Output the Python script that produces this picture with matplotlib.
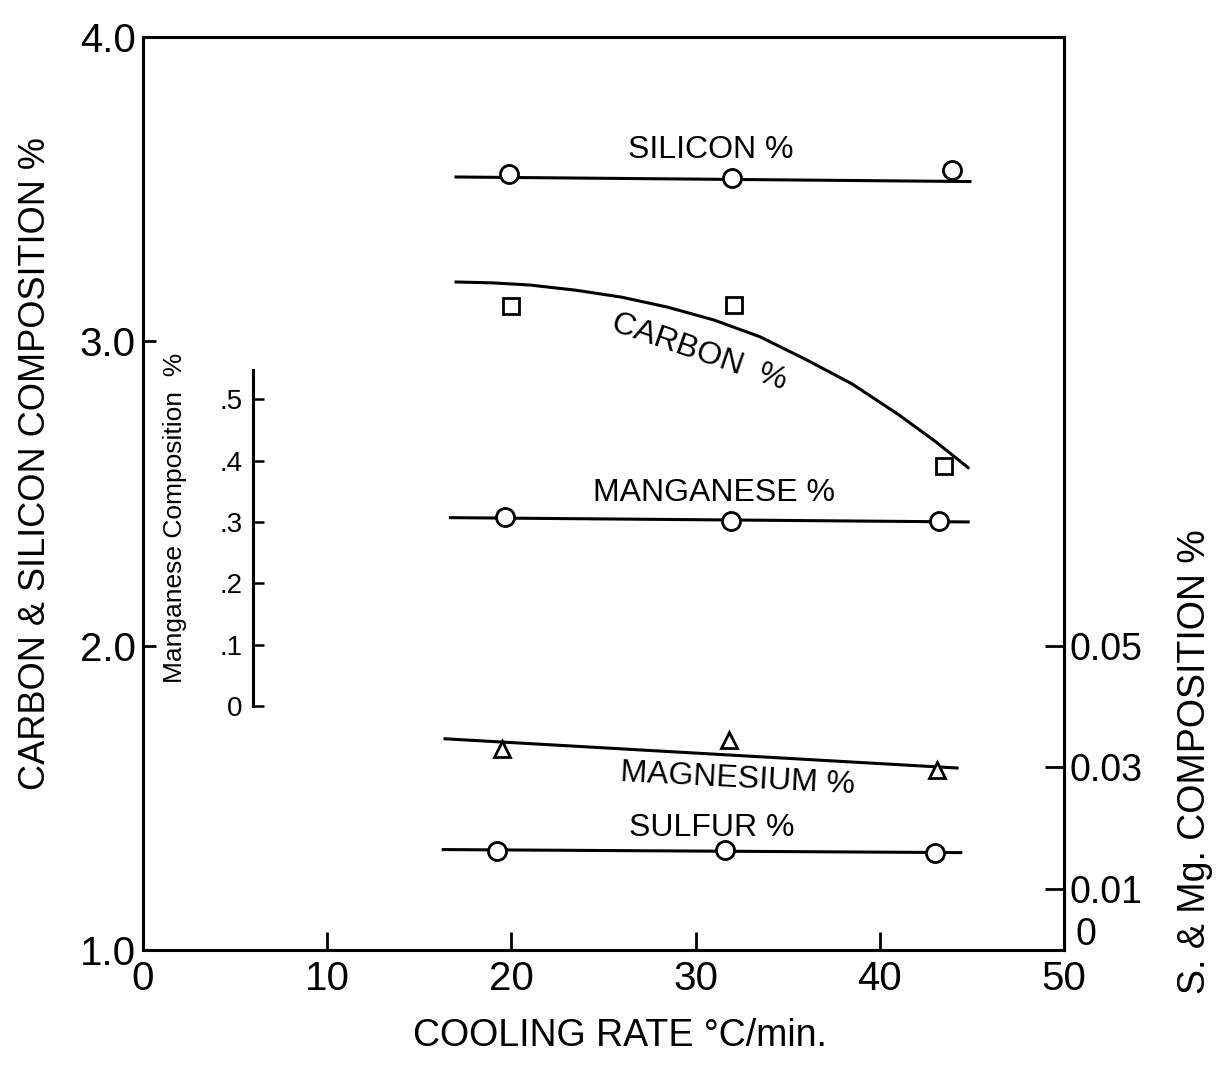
import matplotlib
matplotlib.use('Agg')
import matplotlib.pyplot as plt

# cooling rate (deg C / min) and compositions
si_x = [19.9, 32.0, 43.9]
silicon = [3.55, 3.537, 3.562]
si_fit_x = [17.0, 44.9]
si_fit = [3.54, 3.525]

c_x = [20.0, 32.1, 43.5]
carbon = [3.115, 3.12, 2.59]
c_fit_x = [17.0, 19.0, 21.0, 23.5, 26.0, 28.5, 31.0, 33.5, 36.0, 38.5, 41.0, 43.0, 44.8]
c_fit = [3.195, 3.192, 3.185, 3.168, 3.145, 3.112, 3.070, 3.015, 2.940, 2.860, 2.760, 2.672, 2.585]

mn_x = [19.65, 31.9, 43.2]
manganese = [0.308, 0.302, 0.302]
mn_fit_x = [16.7, 44.8]
mn_fit = [0.307, 0.300]

mg_x = [19.5, 31.8, 43.1]
magnesium = [0.033, 0.0345, 0.0295]
mg_fit_x = [16.4, 44.2]
mg_fit = [0.0347, 0.0299]

s_x = [19.2, 31.6, 43.0]
sulfur = [0.0162, 0.0165, 0.0160]
s_fit_x = [16.3, 44.4]
s_fit = [0.0165, 0.0160]

x_ticks = [0, 10, 20, 30, 40, 50]
y_ticks = [1.0, 2.0, 3.0, 4.0]
right_ticks = [0, 0.01, 0.03, 0.05]
right_labels = ['', '0.01', '0.03', '0.05']
mn_ticks = [0, 0.1, 0.2, 0.3, 0.4, 0.5]
mn_labels = ['0', '.1', '.2', '.3', '.4', '.5']

# the small manganese scale sits inside the plot: Mn 0 -> 1.802 on the main axis
MN_BASE, MN_SCALE, MN_TOP, MN_AXIS_X = 1.802, 2.015, 0.548, 6.0


def mn2main(m):
    return [MN_BASE + MN_SCALE * v for v in m]


plt.rcParams['font.family'] = ['Liberation Sans', 'DejaVu Sans']
LW = 2.2

fig = plt.figure(figsize=(12.25, 10.72), dpi=100)
ax = fig.add_axes([0.1167, 0.1138, 0.7518, 0.8517])
ax.set_xlim(0, 50)
ax.set_ylim(1.0, 4.0)
ax.set_xticks(x_ticks)
ax.set_xticklabels([str(t) for t in x_ticks])
ax.set_yticks(y_ticks)
ax.set_yticklabels(['%.1f' % t for t in y_ticks])
for s in ax.spines.values():
    s.set_linewidth(2.2)
ax.tick_params(axis='x', direction='in', length=13, width=2, labelsize=29, pad=7)
ax.tick_params(axis='y', direction='in', length=9, width=2, labelsize=29, pad=5)

ax2 = ax.twinx()
ax2.set_ylim(0, 0.15)
ax2.set_yticks(right_ticks)
ax2.set_yticklabels(right_labels)
ax2.tick_params(axis='y', direction='in', length=14, width=2, labelsize=27, pad=4)
ax2.spines['right'].set_linewidth(2.2)
# the "0" of the right scale sits raised in the corner, beside the "50"
ax2.annotate('0', xy=(1, 0), xycoords='axes fraction', xytext=(8, 11),
             textcoords='offset points', fontsize=27, ha='left', va='center')

circ = dict(marker='o', ms=13, mfc='white', mec='black', mew=2, ls='none', zorder=3)

ax.plot(si_fit_x, si_fit, color='black', lw=LW)
ax.plot(si_x, silicon, **circ)

ax.plot(c_fit_x, c_fit, color='black', lw=LW)
ax.plot(c_x, carbon, marker='s', ms=11, mfc='white', mec='black', mew=2, ls='none')

ax.plot(mn_fit_x, mn2main(mn_fit), color='black', lw=LW)
ax.plot(mn_x, mn2main(manganese), **circ)

ax2.plot(mg_fit_x, mg_fit, color='black', lw=LW)
ax2.plot(mg_x, magnesium, marker='^', ms=12, mfc='white', mec='black', mew=2, ls='none', zorder=3)

ax2.plot(s_fit_x, s_fit, color='black', lw=LW)
ax2.plot(s_x, sulfur, **circ)

lab = dict(fontsize=23, ha='center', va='center')
ax.text(30.8, 3.63, 'SILICON %', **lab)
ax.text(30.2, 2.965, 'CARBON  %', rotation=-19, **lab)
ax.text(31.0, 2.50, 'MANGANESE %', **lab)
ax.text(32.3, 1.56, 'MAGNESIUM %', rotation=-3, **lab)
ax.text(30.9, 1.40, 'SULFUR %', **lab)

# inner manganese scale
axm = ax.inset_axes([MN_AXIS_X, MN_BASE, 0.5, MN_SCALE * MN_TOP], transform=ax.transData)
axm.set_ylim(0, MN_TOP)
axm.set_xticks([])
axm.set_yticks(mn_ticks)
axm.set_yticklabels(mn_labels)
axm.patch.set_visible(False)
for k in ['top', 'right', 'bottom']:
    axm.spines[k].set_visible(False)
axm.spines['left'].set_linewidth(2.2)
axm.tick_params(axis='y', direction='in', length=8, width=1.8, labelsize=20, pad=8)
axm.set_ylabel('Manganese Composition  %', fontsize=19, ha='center', va='center')
axm.yaxis.set_label_coords(-8.5, 0.56)

ax.set_xlabel('COOLING RATE \u00b0C/min.', fontsize=27,
              family=['Liberation Sans Narrow', 'Liberation Sans', 'DejaVu Sans'])
ax.xaxis.set_label_coords(0.518, -0.075)
ax.set_ylabel('CARBON & SILICON COMPOSITION %', fontsize=26, ha='center', va='center')
ax.yaxis.set_label_coords(-0.117, 0.533)
ax2.set_ylabel('S. & Mg. COMPOSITION %', fontsize=27, ha='center', va='center')
ax2.yaxis.set_label_coords(1.142, 0.206)

fig.savefig('out.png', dpi=100)
